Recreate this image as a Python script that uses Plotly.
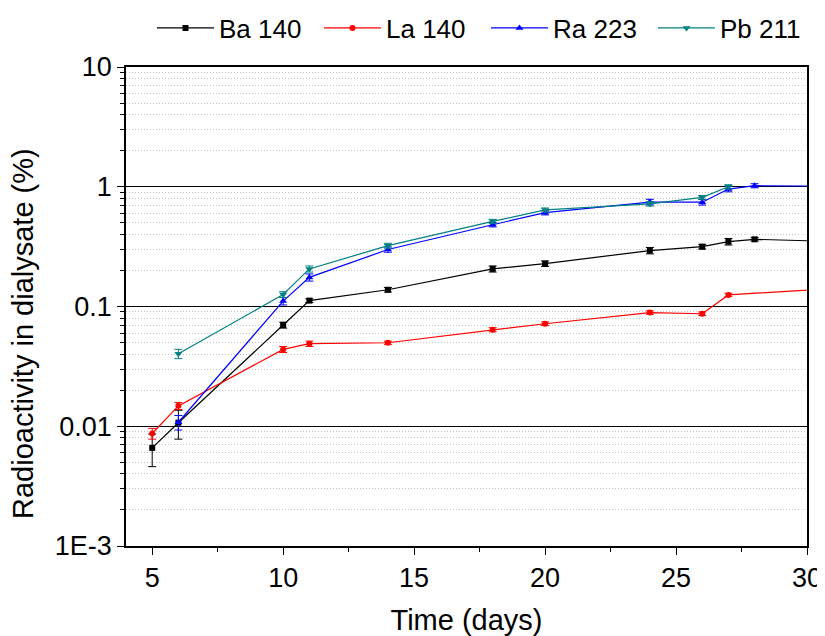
import plotly.graph_objects as go

# ---- data ----
ba_days = [5, 6, 10, 11, 14, 18, 20, 24, 26, 27, 28, 35]
ba_vals = [0.0066, 0.0107, 0.070, 0.112, 0.138, 0.206, 0.228, 0.293, 0.316, 0.348, 0.364, 0.33]
ba_err = [0.0020, 0.0029, 0.004, 0.004, 0.006, 0.012, 0.012, 0.018, 0.014, 0.022, 0.012, 0.01]

la_days = [5, 6, 10, 11, 14, 18, 20, 24, 26, 27, 35]
la_vals = [0.0087, 0.0148, 0.0438, 0.0489, 0.0498, 0.064, 0.0718, 0.089, 0.087, 0.125, 0.16]
la_err = [0.0009, 0.0010, 0.0025, 0.0025, 0.0015, 0.0025, 0.0025, 0.003, 0.003, 0.004, 0.004]

ra_days = [6, 10, 11, 14, 18, 20, 24, 26, 27, 28, 35]
ra_vals = [0.0108, 0.111, 0.175, 0.299, 0.482, 0.607, 0.745, 0.743, 0.957, 1.02, 1.0]
ra_err = [0.0015, 0.008, 0.012, 0.015, 0.02, 0.025, 0.04, 0.04, 0.05, 0.04, 0.03]

pb_days = [6, 10, 11, 14, 18, 20, 24, 26, 27]
pb_vals = [0.0403, 0.126, 0.206, 0.322, 0.514, 0.64, 0.72, 0.815, 1.0]
pb_err = [0.0036, 0.007, 0.012, 0.015, 0.02, 0.025, 0.03, 0.03, 0.04]

series_names = ["Ba 140", "La 140", "Ra 223", "Pb 211"]
y_tickvals = [0.001, 0.01, 0.1, 1, 10]
y_ticktext = ["1E-3", "0.01", "0.1", "1", "10"]
y_minor = [m * 10 ** e for e in range(-3, 1) for m in range(2, 10)]
x_tickvals = [5, 10, 15, 20, 25, 30]
x_title = "Time (days)"
y_title = "Radioactivity in dialysate (%)"

FONT = "Liberation Sans, Arial, sans-serif"
FS_TICK = 27
FS_TITLE = 29
FS_LEG = 26

fig = go.Figure()
specs = [
    (ba_days, ba_vals, ba_err, "#000000", "square", 6),
    (la_days, la_vals, la_err, "#ff0000", "circle", 6),
    (ra_days, ra_vals, ra_err, "#0000ff", "triangle-up", 7),
    (pb_days, pb_vals, pb_err, "#008080", "triangle-down", 7),
]
for name, (xd, yd, ed, col, sym, sz) in zip(series_names, specs):
    fig.add_trace(go.Scatter(
        x=xd, y=yd, name=name, mode="lines+markers",
        line=dict(color=col, width=1.2),
        marker=dict(color=col, symbol=sym, size=sz),
        error_y=dict(type="data", array=ed, visible=True, color=col, thickness=1, width=4),
        cliponaxis=True,
    ))

# page body has an 8px margin, so the figure is 8px smaller than the window
W, H = 817, 628
L, R, T, B = 118, 18, 59, 90
fig.update_layout(
    width=W, height=H,
    margin=dict(l=L, r=R, t=T, b=B, autoexpand=False),
    paper_bgcolor="white", plot_bgcolor="white",
    font=dict(family=FONT, size=FS_TICK, color="black"),
    showlegend=True,
    legend=dict(orientation="h", xref="container", yref="container",
                x=144 / W, xanchor="left", y=1 - 20 / H, yanchor="middle",
                font=dict(size=FS_LEG), bgcolor="rgba(0,0,0,0)", itemwidth=57,
                entrywidth=95, entrywidthmode="pixels",
                tracegroupgap=0),
    xaxis=dict(
        range=[4, 30], tickvals=x_tickvals, ticks="outside", ticklen=7, tickwidth=1,
        tickcolor="black", showline=True, linecolor="black", linewidth=1.5, mirror=True,
        showgrid=False, zeroline=False, automargin=False,
        title=dict(text=x_title, font=dict(size=FS_TITLE), standoff=18),
        tickfont=dict(size=FS_TICK),
        minor=dict(ticks="outside", ticklen=4, tick0=0, dtick=2.5, tickcolor="black", showgrid=False),
    ),
    yaxis=dict(
        type="log", range=[-3, 1], tickmode="array", tickvals=y_tickvals, ticktext=y_ticktext,
        ticks="outside", ticklen=7, tickwidth=1, tickcolor="black",
        showline=True, linecolor="black", linewidth=1.5, mirror=True,
        showgrid=True, gridcolor="black", gridwidth=1, zeroline=False, automargin=False,
        tickfont=dict(size=FS_TICK),
        minor=dict(tickmode="array", tickvals=y_minor, ticks="outside", ticklen=4,
                   tickcolor="black", showgrid=True, gridcolor="#c4c4c4",
                   griddash="1px,2px", gridwidth=1),
    ),
)

# y-axis title placed as rotated text (sits a little below the axis centre in the reference)
plot_h = H - T - B
fig.add_annotation(
    text=y_title, textangle=-90, showarrow=False,
    xref="paper", yref="paper",
    x=(15 - L) / (W - L - R), y=(538 - 326) / plot_h,
    xanchor="center", yanchor="middle",
    font=dict(size=FS_TITLE, family=FONT, color="black"),
)

fig.write_html("out.html")
